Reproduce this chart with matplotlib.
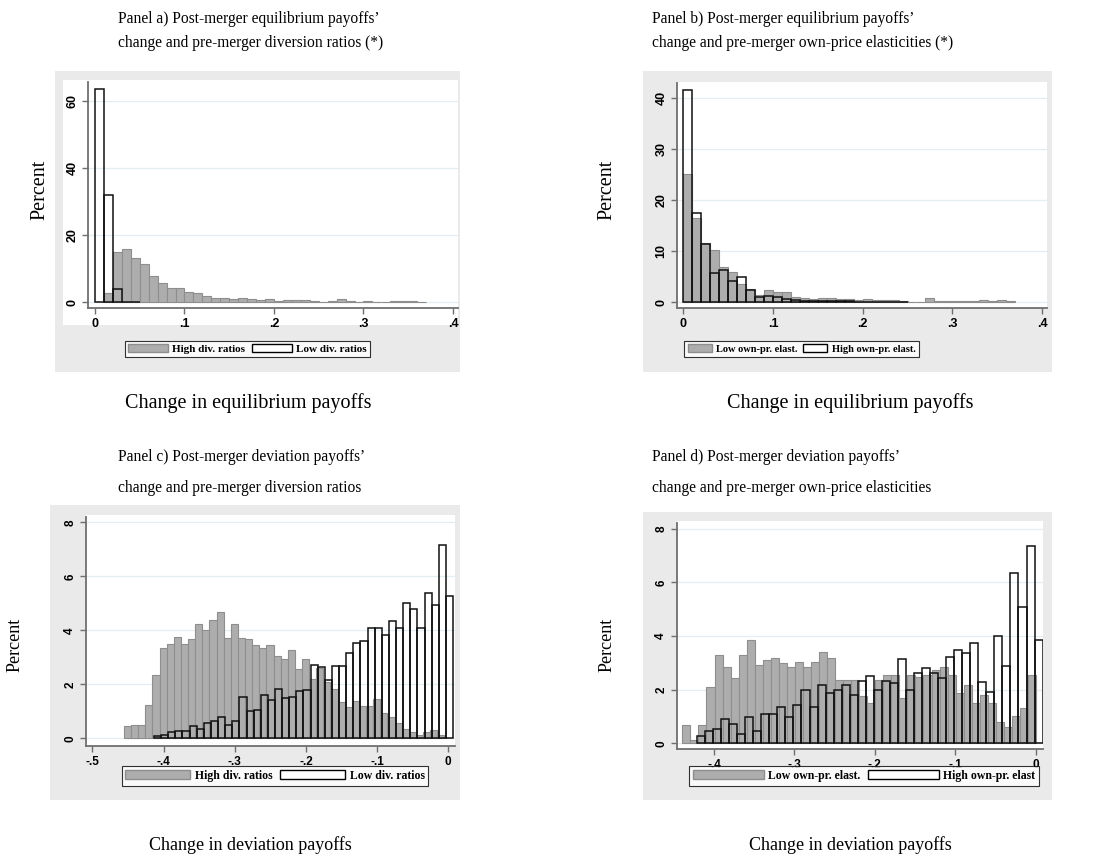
import matplotlib.pyplot as plt
from matplotlib.patches import Rectangle, Patch
import numpy as np

# ---- data (percent per bin, bin width 0.01) ----
# panel a: equilibrium payoffs change, by diversion ratios
a_high_start = 0.01
a_high = [2.7, 14.9, 15.9, 13.3, 11.3, 7.7, 5.8, 4.2, 4.2, 3.1, 2.7, 1.8, 1.3, 1.3, 1.1,
          1.4, 1.0, 0.8, 1.0, 0.5, 0.6, 0.6, 0.6, 0.4, 0.2, 0.4, 1.0, 0.4, 0.2, 0.4,
          0.2, 0.2, 0.4, 0.3, 0.3, 0.2]
a_low_start = 0.0
a_low = [63.6, 32.1, 3.9, 0.1, 0.05]

# panel b: equilibrium payoffs change, by own-price elasticities
b_low_start = 0.0
b_low = [25.1, 16.5, 11.6, 10.2, 6.9, 5.9, 3.6, 2.7, 1.5, 2.4, 1.95, 1.95, 1.0, 0.85, 0.6,
         0.85, 0.9, 0.7, 0.7, 0.5, 0.6, 0.45, 0.4, 0.45, 0.3, 0.0, 0.1, 0.9, 0.3, 0.3,
         0.2, 0.2, 0.3, 0.5, 0.3, 0.4, 0.2]
b_high_start = 0.0
b_high = [41.6, 17.6, 11.4, 5.7, 6.3, 4.1, 5.0, 2.5, 1.0, 1.3, 1.1, 0.7, 0.5, 0.3, 0.3,
          0.3, 0.25, 0.2, 0.2, 0.15, 0.05, 0.05, 0.05, 0.05, 0.15]

# panel c: deviation payoffs change, by diversion ratios
c_high_start = -0.4555
c_high = [0.44, 0.48, 0.48, 1.23, 2.33, 3.36, 3.49, 3.75, 3.49, 3.67, 4.23, 4.02, 4.40,
          4.68, 3.71, 4.23, 3.71, 3.67, 3.45, 3.36, 3.45, 3.06, 2.93, 3.27, 2.58, 2.95,
          2.21, 2.60, 2.07, 1.81, 1.33, 1.15, 1.38, 1.20, 1.20, 1.44, 0.93, 0.80, 0.56,
          0.33, 0.25, 0.11, 0.25, 0.30, 0.12]
c_low_start = -0.4134
c_low = [0.09, 0.14, 0.23, 0.28, 0.28, 0.44, 0.36, 0.58, 0.63, 0.80, 0.48, 0.63, 1.53,
         1.01, 1.06, 1.59, 1.41, 1.84, 1.49, 1.53, 1.75, 1.80, 2.70, 2.65, 2.17, 2.67,
         2.67, 3.17, 3.54, 3.61, 4.07, 4.07, 3.83, 4.36, 4.09, 5.02, 4.79, 4.07, 5.39,
         4.95, 7.18, 5.27]

# panel d: deviation payoffs change, by own-price elasticities
d_low_start = -0.4395
d_low = [0.67, 0.12, 0.67, 2.09, 3.29, 2.83, 2.45, 3.29, 3.85, 2.92, 3.09, 3.20, 2.98,
         2.83, 3.02, 2.83, 3.02, 3.39, 3.20, 2.36, 2.36, 2.36, 1.78, 1.49, 2.36, 2.55,
         2.55, 1.68, 2.55, 2.46, 2.55, 2.73, 2.86, 2.55, 1.89, 2.17, 1.52, 1.80, 1.50,
         0.80, 0.60, 1.00, 1.30, 2.55]
d_high_start = -0.4213
d_high = [0.26, 0.45, 0.53, 0.89, 0.72, 0.36, 0.99, 0.47, 1.08, 1.08, 1.34, 0.99, 1.44,
          1.98, 1.34, 2.16, 1.89, 1.98, 2.16, 1.80, 2.34, 2.52, 1.98, 2.34, 2.25, 3.14,
          1.98, 2.61, 2.80, 2.61, 2.42, 3.23, 3.48, 3.38, 3.76, 2.30, 1.90, 4.00, 2.90,
          6.35, 5.10, 7.35, 3.85]
bin_w = 0.01

ticks_eq = [0, .1, .2, .3, .4]
ticklabels_eq = ['0', '.1', '.2', '.3', '.4']
ticks_dev_c = [-.5, -.4, -.3, -.2, -.1, 0]
ticklabels_dev_c = ['-.5', '-.4', '-.3', '-.2', '-.1', '0']
ticks_dev_d = [-.4, -.3, -.2, -.1, 0]
ticklabels_dev_d = ['-.4', '-.3', '-.2', '-.1', '0']

W, H = 1111, 856
fig = plt.figure(figsize=(W / 100, H / 100), dpi=100)

GRAY_BG = '#EAEAEA'
BAR_FILL = '#ADADAD'
BAR_EDGE = '#8E8E8E'
SERIF = 'Liberation Serif'


def rect_px(x0, y0, x1, y1, color):
    fig.patches.append(Rectangle((x0 / W, 1 - y1 / H), (x1 - x0) / W, (y1 - y0) / H,
                                 transform=fig.transFigure, facecolor=color,
                                 edgecolor='none', zorder=-5))


def axes_px(x0, y0, x1, y1):
    ax = fig.add_axes([x0 / W, 1 - y1 / H, (x1 - x0) / W, (y1 - y0) / H])
    ax.set_facecolor('none')
    return ax


def text_px(x, y, s, **kw):
    fig.text(x / W, 1 - y / H, s, **kw)


def hist(ax, start, heights, **kw):
    edges = start + bin_w * np.arange(len(heights))
    ax.bar(edges, heights, width=bin_w, align='edge', **kw)


def style(ax, xlim, ylim, xt, xtl, yt, fs=8.5):
    ax.set_xlim(*xlim)
    ax.set_ylim(*ylim)
    ax.set_xticks(xt)
    ax.set_xticklabels(xtl)
    ax.set_yticks(yt)
    ax.set_yticklabels([str(v) for v in yt], rotation=90, va='center')
    for s in ['top', 'right']:
        ax.spines[s].set_visible(False)
    for s in ['left', 'bottom']:
        ax.spines[s].set_color('#6F6F6F')
        ax.spines[s].set_linewidth(1.3)
    ax.tick_params(direction='out', length=4, width=1, color='#6F6F6F', pad=3)
    for lab in ax.get_xticklabels() + ax.get_yticklabels():
        lab.set_fontfamily('Liberation Sans')
        lab.set_fontweight('bold')
        lab.set_fontsize(fs)
    ax.yaxis.grid(True, color='#E4EEF0', linewidth=0.9)
    ax.set_axisbelow(True)


def legend(cx, cy, labels, hl, fs):
    handles = [Patch(facecolor=BAR_FILL, edgecolor=BAR_EDGE),
               Patch(facecolor='white', edgecolor='black')]
    lg = fig.legend(handles, labels, loc='center', bbox_to_anchor=(cx / W, 1 - cy / H),
                    ncol=2, frameon=True, fancybox=False, edgecolor='black',
                    handlelength=hl, handleheight=0.8, handletextpad=0.4,
                    columnspacing=0.6, borderpad=0.3, borderaxespad=0,
                    prop={'family': SERIF, 'weight': 'bold', 'size': fs})
    lg.get_frame().set_linewidth(0.8)


# ---- panel backgrounds ----
rect_px(55, 71, 460, 372, GRAY_BG)
rect_px(63, 80, 458, 325, 'white')
rect_px(643, 71, 1052, 372, GRAY_BG)
rect_px(677, 82, 1047, 308, 'white')
rect_px(50, 505, 460, 800, GRAY_BG)
rect_px(86, 515, 455, 746, 'white')
rect_px(643, 512, 1052, 800, GRAY_BG)
rect_px(677, 521, 1043, 749, 'white')

gray_kw = dict(color=BAR_FILL, edgecolor=BAR_EDGE, linewidth=0.8)
line_kw = dict(fill=False, edgecolor='#111111', linewidth=1.1)

# panel a
ax = axes_px(88, 82, 458, 308)
hist(ax, a_high_start, a_high, **gray_kw)
hist(ax, a_low_start, a_low, **line_kw)
style(ax, (-0.0078, 0.4056), (-1.7, 65.66), ticks_eq, ticklabels_eq, [0, 20, 40, 60], 9)

# panel b
ax = axes_px(677, 82.7, 1047, 308.3)
hist(ax, b_low_start, b_low, **gray_kw)
hist(ax, b_high_start, b_high, **line_kw)
style(ax, (-0.007, 0.4055), (-1.18, 43.06), ticks_eq, ticklabels_eq, [0, 10, 20, 30, 40], 9)

# panel c
ax = axes_px(86, 516.7, 455, 746)
hist(ax, c_high_start, c_high, **gray_kw)
hist(ax, c_low_start, c_low, **line_kw)
style(ax, (-0.5089, 0.0094), (-0.285, 8.21), ticks_dev_c, ticklabels_dev_c, [0, 2, 4, 6, 8])

# panel d
ax = axes_px(677, 523, 1043, 749.3)
hist(ax, d_low_start, d_low, **gray_kw)
hist(ax, d_high_start, d_high, **line_kw)
style(ax, (-0.4462, 0.0092), (-0.224, 8.22), ticks_dev_d, ticklabels_dev_d, [0, 2, 4, 6, 8])

# legends
legend(247.5, 349, ['High div. ratios', 'Low div. ratios'], 3.6, 8)
legend(801.5, 349, ['Low own-pr. elast.', 'High own-pr. elast.'], 2.3, 7.5)
legend(275, 776, ['High div. ratios', 'Low div. ratios'], 5.5, 8.5)
legend(864, 776, ['Low own-pr. elast.', 'High own-pr. elast'], 6.0, 8.5)

# titles and axis labels
tkw = dict(family=SERIF, fontsize=11.2, va='center', ha='left')
text_px(118, 19, "Panel a) Post-merger equilibrium payoffs\u2019", **tkw)
text_px(118, 43, "change and pre-merger diversion ratios (*)", **tkw)
text_px(652, 19, "Panel b) Post-merger equilibrium payoffs\u2019", **tkw)
text_px(652, 43, "change and pre-merger own-price elasticities (*)", **tkw)
text_px(118, 457, "Panel c) Post-merger deviation payoffs\u2019", **tkw)
text_px(118, 488, "change and pre-merger diversion ratios", **tkw)
text_px(652, 457, "Panel d) Post-merger deviation payoffs\u2019", **tkw)
text_px(652, 488, "change and pre-merger own-price elasticities", **tkw)

top_kw = dict(family=SERIF, fontsize=14.5, va='center', ha='center')
bot_kw = dict(family=SERIF, fontsize=13, va='center', ha='center')
text_px(248, 403, "Change in equilibrium payoffs", **top_kw)
text_px(850, 403, "Change in equilibrium payoffs", **top_kw)
text_px(250, 845, "Change in deviation payoffs", **bot_kw)
text_px(850, 845, "Change in deviation payoffs", **bot_kw)
text_px(40, 190, "Percent", rotation=90, **top_kw)
text_px(607, 190, "Percent", rotation=90, **top_kw)
text_px(15, 645, "Percent", rotation=90, **bot_kw)
text_px(607, 645, "Percent", rotation=90, **bot_kw)

fig.savefig("out.png", dpi=100)
